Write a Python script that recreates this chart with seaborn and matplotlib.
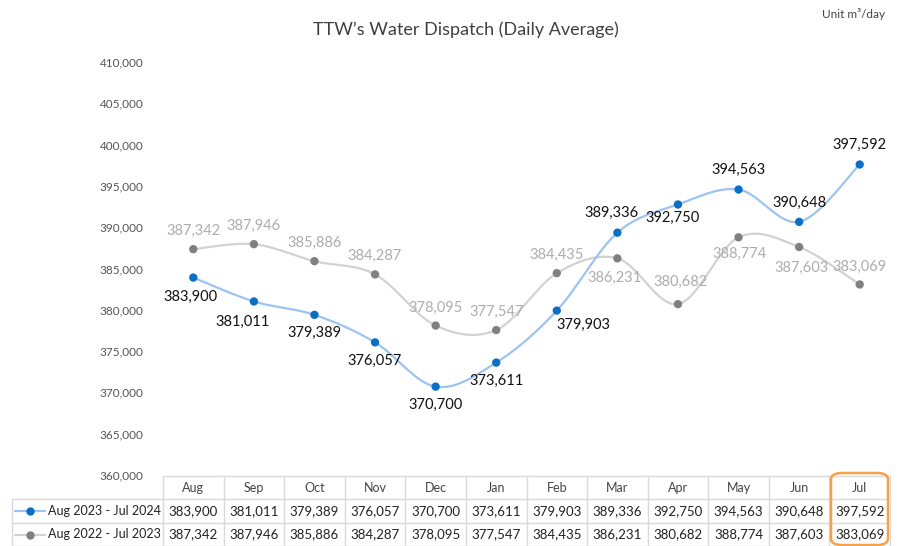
import matplotlib.pyplot as plt
import matplotlib.transforms as mtrans
from matplotlib.patches import FancyBboxPatch
import numpy as np
import seaborn as sns

# Chart data
months = ["Aug", "Sep", "Oct", "Nov", "Dec", "Jan", "Feb", "Mar", "Apr", "May", "Jun", "Jul"]
series_names = ["Aug 2023 - Jul 2024", "Aug 2022 - Jul 2023"]
current = [383900, 381011, 379389, 376057, 370700, 373611, 379903, 389336, 392750, 394563, 390648, 397592]
previous = [387342, 387946, 385886, 384287, 378095, 377547, 384435, 386231, 380682, 388774, 387603, 383069]
y_ticks = list(range(360000, 410001, 5000))

# label offsets in points (x, y) for each point's value label
cur_offsets = [(-2, -14), (-8, -15), (0, -13), (0, -13), (0, -13), (0, -13),
               (19, -10), (-4, 14), (-4, -10), (0, 14), (0, 14), (0, 14)]
prev_offsets = [(0, 13), (0, 13), (0, 13), (0, 13), (0, 13), (0, 13),
                (0, 13), (-2, -14), (2, 16), (1, -12), (2, -15), (0, 13)]

blue_line, blue_dot = "#9DC3F0", "#0B6FC6"
gray_line, gray_dot = "#D2D2D2", "#808080"
grid_col = "#DADADA"

sns.set_theme(style="white")
plt.rcParams["font.family"] = ["Lato", "DejaVu Sans"]


def smooth(xs, ys, n=20):
    # Catmull-Rom style curve through the points, like a spreadsheet smoothed line
    xs = np.asarray(xs, float)
    ys = np.asarray(ys, float)
    px = np.concatenate([[xs[0]], xs, [xs[-1]]])
    py = np.concatenate([[ys[0]], ys, [ys[-1]]])
    out_x, out_y = [], []
    t = np.linspace(0, 1, n)
    for i in range(1, len(px) - 2):
        p0, p1, p2, p3 = (np.array([px[j], py[j]]) for j in (i - 1, i, i + 1, i + 2))
        c1 = p1 + (p2 - p0) / 6
        c2 = p2 - (p3 - p1) / 6
        pts = ((1 - t) ** 3)[:, None] * p1 + (3 * (1 - t) ** 2 * t)[:, None] * c1 \
            + (3 * (1 - t) * t ** 2)[:, None] * c2 + (t ** 3)[:, None] * p2
        out_x.extend(pts[:, 0])
        out_y.extend(pts[:, 1])
    return np.array(out_x), np.array(out_y)


fig = plt.figure(figsize=(9.02, 5.46), dpi=100)
W, H = 902, 546
ax = fig.add_axes([163 / W, 1 - 475 / H, (890 - 163) / W, (475 - 62) / H])

x = np.arange(len(months))
for vals, lc, dc, z in [(previous, gray_line, gray_dot, 2), (current, blue_line, blue_dot, 3)]:
    sx, sy = smooth(x, vals)
    sns.lineplot(x=sx, y=sy, sort=False, color=lc, linewidth=1.6, ax=ax, zorder=z)
    sns.scatterplot(x=x, y=vals, color=dc, s=36, edgecolor="none", ax=ax, zorder=z + 1)

for i, v in enumerate(previous):
    ax.annotate(f"{v:,}", (i, v), xytext=prev_offsets[i], textcoords="offset points",
                ha="center", va="center", fontsize=10.5, color="#ADADAD")
for i, v in enumerate(current):
    ax.annotate(f"{v:,}", (i, v), xytext=cur_offsets[i], textcoords="offset points",
                ha="center", va="center", fontsize=10.5, color="#111111")

ax.set_xlim(-0.5, len(months) - 0.5)
ax.set_ylim(360000, 410000)
ax.set_yticks(y_ticks)
ax.set_yticklabels([f"{t:,}" for t in y_ticks], fontsize=8.5, color="#555555")
ax.tick_params(axis="y", length=0, pad=14)
ax.set_xticks([])
for s in ax.spines.values():
    s.set_visible(False)

# data table under the chart
bt = mtrans.blended_transform_factory(ax.transData, fig.transFigure)
ft = fig.transFigure
yf = lambda p: 1 - p / H
xf = lambda p: p / W
rows_y = [476, 499, 523, 546]
for yy in rows_y:
    if yy != 476:
        fig.add_artist(plt.Line2D([xf(12), xf(163)], [yf(yy), yf(yy)], color=grid_col, lw=1, transform=ft))
    ax.plot([-0.5, len(months) - 0.5], [yf(yy), yf(yy)], color=grid_col, lw=1, transform=bt, clip_on=False)
for i in range(len(months) + 1):
    ax.plot([i - 0.5, i - 0.5], [yf(476), yf(546)], color=grid_col, lw=1, transform=bt, clip_on=False)
fig.add_artist(plt.Line2D([xf(12), xf(12)], [yf(499), yf(546)], color=grid_col, lw=1, transform=ft))

for i, m in enumerate(months):
    ax.text(i, yf(487.5), m, ha="center", va="center", fontsize=9, color="#444444", transform=bt)
    ax.text(i, yf(511), f"{current[i]:,}", ha="center", va="center", fontsize=9.5, color="#222222", transform=bt)
    ax.text(i, yf(534.5), f"{previous[i]:,}", ha="center", va="center", fontsize=9.5, color="#222222", transform=bt)

for name, ry, lc, dc in [(series_names[0], 511, blue_line, blue_dot), (series_names[1], 534.5, gray_line, gray_dot)]:
    fig.add_artist(plt.Line2D([xf(15), xf(45)], [yf(ry), yf(ry)], color=lc, lw=1.6, transform=ft))
    fig.add_artist(plt.Line2D([xf(30)], [yf(ry)], marker="o", markersize=5, color=dc, transform=ft))
    fig.text(xf(48), yf(ry), name, ha="left", va="center", fontsize=9, color="#222222")

# highlight box around the latest month
box = FancyBboxPatch((xf(831), yf(545)), xf(888) - xf(831), yf(473) - yf(545),
                     boxstyle="round,pad=0,rounding_size=0.012", transform=ft,
                     fill=False, edgecolor="#F5A04A", lw=1.8)
fig.add_artist(box)

fig.text(xf(466), yf(30), "TTW\u2019s Water Dispatch (Daily Average)", ha="center", va="center",
         fontsize=13, color="#404040")
fig.text(xf(885), yf(14), "Unit m\u00b3/day", ha="right", va="center", fontsize=8.5, color="#444444")

fig.savefig("out.png", dpi=100)
